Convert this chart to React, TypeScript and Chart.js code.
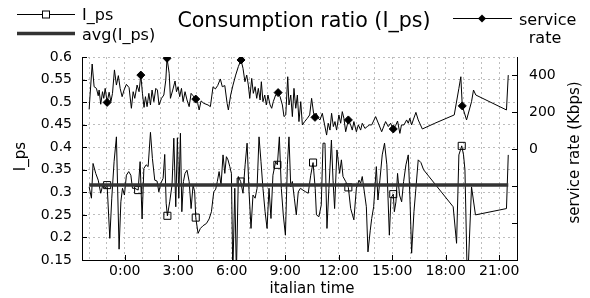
import React, { useEffect, useRef } from 'react';
import { Chart, registerables } from 'chart.js';

Chart.register(...registerables);

const FONT = '"DejaVu Sans", "Liberation Sans", sans-serif';

const TITLE = 'Consumption ratio (I_ps)';
const X_TITLE = 'italian time';
const Y_TITLE = 'I_ps';
const Y2_TITLE = 'service rate (Kbps)';
const LEGEND_IPS = 'I_ps';
const LEGEND_AVG = 'avg(I_ps)';
const LEGEND_RATE_1 = 'service';
const LEGEND_RATE_2 = 'rate';

const X_MIN = -2.4;
const X_MAX = 22;
const Y_MIN = 0.15;
const Y_MAX = 0.6;
const Y2_MIN = -600;
const Y2_MAX = 500;

const xTickHours = [0, 3, 6, 9, 12, 15, 18, 21];
const yTickValues = [0.15, 0.2, 0.25, 0.3, 0.35, 0.4, 0.45, 0.5, 0.55, 0.6];
const y2TickValues = [-400, -200, 0, 200, 400];
const y2LabelValues = [0, 200, 400];

// I_ps series (hours, value)
const ipsHours = [
  -2.0, -1.87, -1.78, -1.63, -1.49, -1.35, -1.21, -1.1, -0.99, -0.84,
  -0.73, -0.6, -0.47, -0.32, -0.22, -0.13, -0.02, 0.09, 0.22, 0.34,
  0.43, 0.56, 0.75, 0.86, 0.97, 1.07, 1.2, 1.31, 1.44, 1.55,
  1.68, 1.81, 1.91, 2.02, 2.15, 2.24, 2.32, 2.39, 2.52, 2.65,
  2.75, 2.86, 2.95, 3.03, 3.12, 3.2, 3.29, 3.38, 3.49, 3.61,
  3.72, 3.83, 3.92, 3.98, 4.11, 4.24, 4.39, 4.58, 4.73, 4.86,
  4.99, 5.1, 5.19, 5.29, 5.4, 5.51, 5.61, 5.7, 5.79, 5.89,
  5.98, 6.06, 6.17, 6.26, 6.37, 6.5, 6.63, 6.75, 6.86, 6.97,
  7.08, 7.19, 7.31, 7.42, 7.53, 7.64, 7.75, 7.87, 7.98, 8.09,
  8.2, 8.31, 8.46, 8.56, 8.67, 8.78, 8.89, 9.01, 9.12, 9.21,
  9.31, 9.4, 9.51, 9.62, 9.73, 9.85, 9.99, 10.15, 10.29, 10.43,
  10.56, 10.68, 10.75, 10.89, 11.02, 11.12, 11.23, 11.34, 11.45, 11.59,
  11.68, 11.77, 11.9, 12.05, 12.15, 12.24, 12.39, 12.54, 12.67, 12.85,
  12.99, 13.14, 13.23, 13.32, 13.55, 13.64, 13.77, 13.85, 13.96, 14.11,
  14.2, 14.31, 14.44, 14.57, 14.7, 14.84, 14.93, 15.06, 15.12, 15.21,
  15.3, 15.41, 15.53, 15.64, 15.77, 15.9, 15.99, 16.09, 16.22, 16.33,
  16.46, 16.61, 16.76, 18.42, 18.61, 18.74, 18.9, 19.0, 19.08, 19.22,
  19.45, 19.67, 21.41, 21.51,
];
const ipsValues = [
  0.312, 0.287, 0.364, 0.342, 0.327, 0.298, 0.32, 0.309, 0.316, 0.198,
  0.287, 0.368, 0.423, 0.174, 0.279, 0.309, 0.294, 0.338, 0.346, 0.338,
  0.309, 0.309, 0.305, 0.368, 0.241, 0.353, 0.361, 0.357, 0.433, 0.375,
  0.327, 0.325, 0.301, 0.32, 0.331, 0.384, 0.276, 0.248, 0.279, 0.316,
  0.42, 0.268, 0.421, 0.287, 0.431, 0.257, 0.324, 0.342, 0.349, 0.324,
  0.264, 0.316, 0.301, 0.244, 0.209, 0.22, 0.226, 0.231, 0.241, 0.257,
  0.301, 0.307, 0.324, 0.346, 0.316, 0.383, 0.342, 0.379, 0.372, 0.357,
  0.342, 0.12, 0.309, 0.12, 0.335, 0.324, 0.298, 0.361, 0.409, 0.301,
  0.22, 0.294, 0.287, 0.309, 0.423, 0.368, 0.309, 0.257, 0.22, 0.309,
  0.242, 0.338, 0.368, 0.361, 0.423, 0.309, 0.25, 0.205, 0.361, 0.423,
  0.312, 0.324, 0.287, 0.25, 0.301, 0.309, 0.305, 0.301, 0.298, 0.338,
  0.366, 0.309, 0.25, 0.246, 0.272, 0.409, 0.409, 0.22, 0.309, 0.416,
  0.327, 0.264, 0.394, 0.342, 0.372, 0.335, 0.324, 0.311, 0.264, 0.239,
  0.309, 0.327, 0.32, 0.335, 0.268, 0.168, 0.216, 0.242, 0.268, 0.357,
  0.283, 0.327, 0.383, 0.409, 0.361, 0.205, 0.287, 0.296, 0.257, 0.279,
  0.342, 0.294, 0.279, 0.324, 0.361, 0.383, 0.294, 0.165, 0.257, 0.309,
  0.372, 0.366, 0.35, 0.268, 0.187, 0.383, 0.403, 0.383, 0.35, 0.09,
  0.312, 0.25, 0.264, 0.383,
];
const ipsMarkerHours = [-0.99, 0.75, 2.39, 3.98, 6.5, 8.56, 10.56, 12.54, 15.06, 18.9];
const AVG_IPS = 0.316;

// service rate series (hours, Kbps)
const rateHours = [
  -2.0, -1.83, -1.72, -1.59, -1.49, -1.44, -1.35, -1.25, -1.18, -1.1,
  -0.99, -0.88, -0.78, -0.69, -0.58, -0.47, -0.36, -0.26, -0.15, -0.04,
  0.09, 0.24, 0.37, 0.47, 0.56, 0.69, 0.8, 0.9, 0.99, 1.08,
  1.16, 1.25, 1.35, 1.44, 1.53, 1.63, 1.74, 1.83, 1.92, 2.06,
  2.19, 2.3, 2.37, 2.49, 2.56, 2.69, 2.82, 2.9, 2.99, 3.08,
  3.18, 3.27, 3.38, 3.49, 3.61, 3.72, 3.83, 3.98, 4.09, 4.17,
  4.28, 4.43, 4.67, 4.8, 4.95, 5.08, 5.21, 5.36, 5.47, 5.61,
  5.74, 5.81, 5.94, 6.07, 6.22, 6.37, 6.52, 6.63, 6.74, 6.84,
  6.93, 7.01, 7.12, 7.21, 7.31, 7.4, 7.49, 7.59, 7.66, 7.75,
  7.85, 7.94, 8.03, 8.15, 8.24, 8.33, 8.46, 8.6, 8.71, 8.84,
  8.93, 9.03, 9.14, 9.21, 9.31, 9.4, 9.49, 9.59, 9.68, 9.77,
  9.87, 9.96, 10.09, 10.24, 10.37, 10.48, 10.59, 10.67, 10.74, 10.85,
  10.95, 11.08, 11.21, 11.32, 11.41, 11.51, 11.6, 11.7, 11.79, 11.88,
  12.01, 12.11, 12.2, 12.29, 12.39, 12.54, 12.67, 12.76, 12.85, 12.99,
  13.1, 13.23, 13.32, 13.47, 13.6, 13.73, 13.85, 14.07, 14.26, 14.41,
  14.63, 14.78, 14.91, 15.06, 15.19, 15.3, 15.43, 15.52, 15.66, 15.81,
  15.9, 15.99, 16.09, 16.18, 16.33, 16.46, 16.69, 17.39, 18.48, 18.74,
  18.85, 18.93, 19.17, 19.45, 19.56, 19.69, 21.41, 21.51,
];
const rateValues = [
  216, 462, 339, 330, 290, 321, 244, 312, 276, 330,
  254, 309, 258, 303, 430, 348, 399, 330, 285, 321,
  352, 334, 222, 312, 276, 348, 312, 402, 303, 227,
  285, 231, 303, 240, 321, 258, 330, 321, 240, 276,
  294, 375, 493, 412, 276, 321, 370, 312, 339, 285,
  330, 258, 312, 267, 231, 303, 290, 272, 249, 213,
  262, 249, 240, 231, 339, 327, 345, 381, 339, 345,
  249, 213, 294, 348, 402, 448, 484, 439, 366, 402,
  348, 276, 384, 303, 339, 276, 330, 267, 366, 258,
  294, 240, 294, 240, 222, 258, 294, 307, 285, 240,
  177, 186, 393, 240, 294, 177, 330, 222, 294, 150,
  258, 132, 150, 168, 186, 276, 195, 173, 195, 168,
  159, 195, 132, 77, 141, 104, 195, 123, 150, 104,
  186, 141, 204, 168, 95, 159, 132, 104, 150, 95,
  132, 104, 141, 113, 123, 132, 132, 177, 132, 95,
  150, 123, 141, 110, 128, 153, 86, 132, 132, 159,
  141, 168, 132, 159, 200, 159, 110, 141, 186, 330,
  393, 235, 159, 258, 321, 294, 213, 402,
];
const rateMarkerHours = [-0.99, 0.9, 2.37, 3.98, 6.52, 8.6, 10.67, 12.54, 15.06, 18.93];

const fmtHour = (v: number) => `${((v % 24) + 24) % 24}:00`;

const overlayPlugin = {
  id: 'overlay',
  afterDraw(chart: any) {
    const ctx = chart.ctx as CanvasRenderingContext2D;
    const { left, right, top, bottom } = chart.chartArea;
    const sx = chart.scales.x;
    const sy = chart.scales.y;
    const sy2 = chart.scales.y2;
    ctx.save();
    // inward tick marks
    ctx.strokeStyle = '#000';
    ctx.lineWidth = 1;
    ctx.beginPath();
    xTickHours.forEach((h) => {
      const px = Math.round(sx.getPixelForValue(h)) + 0.5;
      ctx.moveTo(px, bottom);
      ctx.lineTo(px, bottom - 5);
    });
    yTickValues.forEach((v) => {
      const py = Math.round(sy.getPixelForValue(v)) + 0.5;
      ctx.moveTo(left, py);
      ctx.lineTo(left + 5, py);
    });
    y2TickValues.forEach((v) => {
      const py = Math.round(sy2.getPixelForValue(v)) + 0.5;
      ctx.moveTo(right, py);
      ctx.lineTo(right - 5, py);
    });
    ctx.stroke();

    ctx.fillStyle = '#000';
    // title
    ctx.font = `20.6px ${FONT}`;
    ctx.textAlign = 'center';
    ctx.textBaseline = 'middle';
    ctx.fillText(TITLE, 304, 22);

    // axis titles
    ctx.font = `15px ${FONT}`;
    ctx.fillText(X_TITLE, 312, 289);
    ctx.save();
    ctx.translate(21.5, (top + bottom) / 2 - 2);
    ctx.rotate(-Math.PI / 2);
    ctx.fillText(Y_TITLE, 0, 0);
    ctx.restore();
    ctx.save();
    ctx.translate(575.5, 152.5);
    ctx.rotate(-Math.PI / 2);
    ctx.fillText(Y2_TITLE, 0, 0);
    ctx.restore();

    // legend left
    ctx.font = `16px ${FONT}`;
    ctx.textAlign = 'left';
    ctx.beginPath();
    ctx.moveTo(17, 14.5);
    ctx.lineTo(75, 14.5);
    ctx.stroke();
    ctx.fillStyle = '#fff';
    ctx.fillRect(42.5, 11, 7, 7);
    ctx.strokeRect(42.5, 11, 7, 7);
    ctx.fillStyle = '#000';
    ctx.fillText(LEGEND_IPS, 82, 16);
    ctx.save();
    ctx.strokeStyle = '#333';
    ctx.lineWidth = 3.5;
    ctx.beginPath();
    ctx.moveTo(17, 33.5);
    ctx.lineTo(75, 33.5);
    ctx.stroke();
    ctx.restore();
    ctx.fillText(LEGEND_AVG, 82, 35.5);

    // legend right
    ctx.beginPath();
    ctx.moveTo(453, 18.5);
    ctx.lineTo(512, 18.5);
    ctx.stroke();
    ctx.beginPath();
    ctx.moveTo(482, 14.5);
    ctx.lineTo(486, 18.5);
    ctx.lineTo(482, 22.5);
    ctx.lineTo(478, 18.5);
    ctx.closePath();
    ctx.fill();
    ctx.fillText(LEGEND_RATE_1, 519, 20.5);
    ctx.textAlign = 'center';
    ctx.fillText(LEGEND_RATE_2, 545, 38.5);
    ctx.restore();
  },
};

export default function App() {
  const ref = useRef<HTMLCanvasElement | null>(null);

  useEffect(() => {
    const canvas = ref.current;
    if (!canvas) return;
    Chart.defaults.font.family = FONT;
    Chart.defaults.color = '#000';

    const ipsData = ipsHours.map((h, i) => ({ x: h, y: ipsValues[i] }));
    const rateData = rateHours.map((h, i) => ({ x: h, y: rateValues[i] }));
    const avgData = [
      { x: ipsHours[0], y: AVG_IPS },
      { x: ipsHours[ipsHours.length - 1], y: AVG_IPS },
    ];

    const chart = new Chart(canvas, {
      type: 'line',
      data: {
        datasets: [
          {
            label: LEGEND_AVG,
            data: avgData,
            yAxisID: 'y',
            borderColor: '#333',
            borderWidth: 3.5,
            pointRadius: 0,
            tension: 0,
          },
          {
            label: LEGEND_IPS,
            data: ipsData,
            yAxisID: 'y',
            borderColor: '#000',
            borderWidth: 1,
            tension: 0,
            pointStyle: 'rect',
            pointRadius: (c: any) => (ipsMarkerHours.includes(ipsHours[c.dataIndex]) ? 5 : 0),
            pointBorderColor: '#000',
            pointBackgroundColor: 'rgba(0,0,0,0)',
            pointBorderWidth: 1,
          },
          {
            label: 'service rate',
            data: rateData,
            yAxisID: 'y2',
            borderColor: '#000',
            borderWidth: 1,
            tension: 0,
            pointStyle: 'rectRot',
            pointRadius: (c: any) => (rateMarkerHours.includes(rateHours[c.dataIndex]) ? 4 : 0),
            pointBorderColor: '#000',
            pointBackgroundColor: '#000',
            pointBorderWidth: 1,
          },
        ],
      },
      options: {
        animation: false,
        responsive: false,
        events: [],
        layout: { padding: { top: 57, left: 0, right: 0, bottom: 0 } },
        plugins: {
          legend: { display: false },
          title: { display: false },
          tooltip: { enabled: false },
        },
        scales: {
          x: {
            type: 'linear',
            min: X_MIN,
            max: X_MAX,
            afterFit: (s: any) => {
              s.height = 38;
            },
            ticks: {
              stepSize: 1,
              autoSkip: false,
              maxRotation: 0,
              includeBounds: false,
              padding: 3,
              font: { size: 14, family: FONT },
              color: '#000',
              callback: (v: any) => (Number(v) % 3 === 0 ? fmtHour(Number(v)) : ''),
            },
            grid: { color: '#bdbdbd', lineWidth: 1, drawTicks: false },
            border: { display: true, color: '#000', width: 1, dash: [2, 3] },
          },
          y: {
            type: 'linear',
            position: 'left',
            min: Y_MIN,
            max: Y_MAX,
            afterFit: (s: any) => {
              s.width = 82;
            },
            ticks: {
              stepSize: 0.05,
              padding: 10,
              font: { size: 14, family: FONT },
              color: '#000',
              callback: (v: any) => String(Math.round(Number(v) * 100) / 100),
            },
            grid: { color: '#bdbdbd', lineWidth: 1, drawTicks: false },
            border: { display: true, color: '#000', width: 1, dash: [2, 3] },
          },
          y2: {
            type: 'linear',
            position: 'right',
            min: Y2_MIN,
            max: Y2_MAX,
            afterFit: (s: any) => {
              s.width = 73;
            },
            ticks: {
              stepSize: 200,
              padding: 12,
              font: { size: 14, family: FONT },
              color: '#000',
              callback: (v: any) => (y2LabelValues.includes(Number(v)) ? String(v) : ''),
            },
            grid: { drawOnChartArea: false, drawTicks: false },
            border: { display: true, color: '#000', width: 1 },
          },
        },
      },
      plugins: [overlayPlugin],
    } as any);

    return () => chart.destroy();
  }, []);

  return (
    <canvas
      ref={ref}
      width={590}
      height={298}
      style={{ position: 'absolute', left: 0, top: 0, width: 590, height: 298 }}
    />
  );
}
